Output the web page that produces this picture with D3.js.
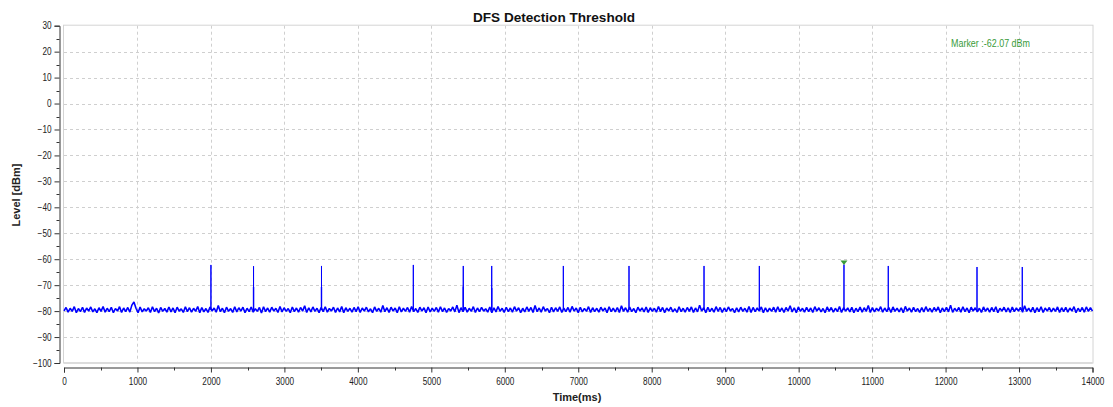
<!DOCTYPE html>
<html><head><meta charset="utf-8">
<script src="https://cdn.jsdelivr.net/npm/d3@7"></script>
<style>
html,body{margin:0;padding:0;background:#fff;}
svg{display:block;}
text{font-family:"Liberation Sans",Arial,sans-serif;}
</style></head>
<body>
<svg id="chart" width="1113" height="407"></svg>
<script>
const title = "DFS Detection Threshold";
const xTitle = "Time(ms)";
const yTitle = "Level [dBm]";
const markerLabel = "Marker :-62.07 dBm";
const markerTime = 10617;
const markerLevel = -62.07;
const xTicks = [0,1000,2000,3000,4000,5000,6000,7000,8000,9000,10000,11000,12000,13000,14000];
const yTicks = [30,20,10,0,-10,-20,-30,-40,-50,-60,-70,-80,-90,-100];
const noiseStepMs = 28;
const noise = [
-79.9,-78.6,-80.4,-78.9,-80.1,-78.3,-80.6,-79.0,-80.2,-78.5,-80.5,-78.8,-80.0,-78.4,-80.3,-79.1,-80.6,-78.7,-80.1,-78.2,
-80.4,-78.9,-80.2,-78.5,-80.6,-79.0,-80.0,-78.3,-80.5,-78.8,-80.2,-78.6,-80.4,-77.7,-76.5,-78.9,-80.6,-78.4,-80.3,-79.1,
-80.0,-78.7,-80.5,-78.3,-80.2,-78.9,-80.7,-78.6,-80.1,-79.0,-80.4,-78.4,-80.3,-78.8,-80.6,-78.5,-80.0,-79.1,-80.5,-78.3,
-80.2,-78.7,-80.4,-78.9,-80.1,-78.2,-80.6,-78.6,-80.3,-79.0,-80.5,-78.4,-80.0,-78.8,-80.4,-77.8,-80.2,-78.9,-80.6,-78.5,
-80.1,-79.0,-80.5,-78.3,-80.3,-78.7,-80.0,-78.5,-80.6,-78.9,-80.2,-78.4,-80.4,-79.1,-80.1,-78.6,-80.7,-78.3,-80.2,-78.8,
-80.4,-78.5,-80.0,-78.9,-80.5,-78.2,-80.3,-78.7,-80.1,-79.0,-80.6,-78.4,-80.2,-78.8,-80.4,-78.6,-80.0,-77.9,-80.5,-78.7,
-80.3,-78.4,-80.1,-78.9,-80.6,-78.6,-80.2,-78.3,-80.4,-79.0,-80.0,-78.5,-80.5,-78.8,-80.3,-78.2,-80.6,-78.7,-80.1,-78.9,
-80.4,-78.6,-80.2,-78.3,-80.5,-78.8,-80.0,-78.5,-80.3,-79.1,-80.6,-78.4,-80.1,-78.9,-80.4,-77.8,-80.2,-78.7,-80.5,-78.5,
-80.0,-78.8,-80.6,-78.3,-80.3,-78.9,-80.1,-78.6,-80.4,-78.2,-80.2,-79.0,-80.5,-78.5,-80.0,-78.7,-80.6,-78.4,-80.3,-78.9,
-80.1,-78.6,-80.4,-78.3,-80.2,-78.8,-80.5,-79.0,-80.0,-78.4,-80.3,-77.7,-80.6,-78.7,-80.2,-78.5,-80.4,-78.9,-80.1,-78.3,
-80.5,-78.8,-80.2,-78.6,-80.0,-79.1,-80.4,-78.4,-80.6,-78.7,-80.3,-78.2,-80.1,-78.9,-80.5,-78.5,-80.2,-78.8,-80.4,-78.3,
-80.0,-78.7,-80.6,-78.9,-80.3,-78.4,-80.1,-78.6,-80.5,-77.8,-80.2,-78.8,-80.4,-78.3,-80.0,-79.0,-80.6,-78.5,-80.3,-78.7,
-80.1,-78.4,-80.5,-78.9,-80.2,-78.6,-80.4,-78.2,-80.0,-78.8,-80.6,-78.5,-80.3,-79.0,-80.1,-78.3,-80.5,-78.7,-80.2,-78.9,
-80.4,-78.5,-80.0,-78.8,-80.6,-78.3,-80.2,-78.9,-80.3,-78.6,-80.5,-77.9,-80.1,-78.7,-80.4,-78.4,-80.2,-79.0,-80.6,-78.5,
-80.0,-78.8,-80.3,-78.4,-80.5,-78.7,-80.1,-78.9,-80.4,-78.2,-80.2,-78.6,-80.6,-78.8,-80.0,-78.5,-80.3,-79.1,-80.5,-78.3,
-80.2,-78.9,-80.4,-78.6,-80.1,-78.4,-80.5,-78.8,-80.3,-77.7,-80.0,-78.7,-80.6,-78.5,-80.2,-78.9,-80.4,-78.3,-80.1,-78.6,
-80.5,-78.8,-80.2,-78.4,-80.0,-79.0,-80.6,-78.7,-80.3,-78.5,-80.1,-78.9,-80.4,-78.2,-80.5,-78.6,-80.2,-78.8,-80.0,-78.4,
-80.6,-78.7,-80.3,-78.9,-80.1,-78.5,-80.4,-78.3,-80.2,-78.8,-80.5,-78.6,-80.0,-77.9,-80.3,-78.7,-80.6,-78.4,-80.1,-78.9,
-80.4,-78.5,-80.2,-78.8,-80.5,-78.3,-80.0,-78.7,-80.3,-79.0,-80.6,-78.4,-80.1,-78.6,-80.4,-78.9,-80.2,-78.2,-80.5,-78.7,
-80.0,-78.8,-80.3,-78.5,-80.6,-78.9,-80.2,-78.4,-80.4,-78.7,-80.1,-77.8,-80.5,-78.6,-80.3,-78.9,-80.0,-78.3,-80.4,-78.8,
-80.2,-78.6,-80.5,-78.4,-80.1,-78.9,-80.3,-78.7,-80.6,-78.2,-80.0,-78.8,-80.4,-78.5,-80.2,-79.0,-80.5,-78.6,-80.3,-78.3,
-80.1,-78.9,-80.4,-78.6,-80.0,-78.4,-80.6,-78.8,-80.2,-78.5,-80.3,-77.7,-80.5,-78.9,-80.1,-78.6,-80.4,-78.3,-80.2,-78.8,
-80.6,-78.5,-80.0,-78.7,-80.3,-78.9,-80.5,-78.4,-80.1,-78.8,-80.4,-78.6,-80.2,-78.3,-80.6,-78.9,-80.0,-78.5,-80.3,-78.7,
-80.5,-78.4,-80.2,-78.8,-80.0,-78.6,-80.4,-77.9,-80.1,-78.9,-80.3,-78.5,-80.6,-78.7,-80.2,-78.3,-80.5,-78.8,-80.0,-78.6,
-80.3,-78.9,-80.1,-78.4,-80.5,-78.7,-80.2,-78.5,-80.4,-78.8,-80.0,-78.3,-80.6,-78.9,-80.2,-78.6,-80.4,-78.4,-80.1,-78.7,
-80.0
];
const spikeTimes = [2000, 2580, 3505, 4755, 5435, 5822, 6797, 7691, 8712, 9465, 10617, 11220, 12428, 13044];
const spikePeaks = [-62.2, -62.7, -62.6, -62.2, -62.6, -62.6, -62.6, -62.6, -62.6, -62.6, -62.07, -62.6, -63.0, -63.0];
const spikeMids  = [null, -70.7, -70.7, null, -70.5, -71.1, null, null, null, null, null, null, null, null];
const spikeBase = -79.6;

const svg = d3.select("#chart");
const L = 64, R = 1092.5, T = 25.7, B = 363;
const x = d3.scaleLinear().domain([0, 14000]).range([L, R]);
const y = d3.scaleLinear().domain([-100, 30]).range([B, T]);

function squeeze(sel, f) {
  sel.each(function () {
    const w = this.getComputedTextLength();
    this.setAttribute("textLength", (w * f).toFixed(2));
    this.setAttribute("lengthAdjust", "spacingAndGlyphs");
  });
}

// grid
const grid = svg.append("g").attr("stroke", "#cfcfcf").attr("stroke-dasharray", "3,3").attr("stroke-width", 1);
grid.selectAll(".gx").data(xTicks.slice(1, -1)).join("line")
  .attr("x1", d => Math.round(x(d)) + 0.5).attr("x2", d => Math.round(x(d)) + 0.5)
  .attr("y1", T).attr("y2", B);
grid.selectAll(".gy").data(yTicks.slice(1, -1)).join("line")
  .attr("y1", d => Math.round(y(d)) + 0.5).attr("y2", d => Math.round(y(d)) + 0.5)
  .attr("x1", L).attr("x2", R);

// frame
svg.append("rect").attr("x", L - 0.5).attr("y", T - 0.5).attr("width", R - L + 1).attr("height", B - T + 0.5)
  .attr("fill", "none").attr("stroke", "#d4d4d4").attr("stroke-width", 1);
svg.append("line").attr("x1", L).attr("x2", R).attr("y1", B).attr("y2", B)
  .attr("stroke", "#dcdcdc").attr("stroke-width", 2);

// noise trace
const noisePts = noise.map((v, i) => ({t: i * noiseStepMs, v}));
const line = d3.line().x(d => x(d.t)).y(d => y(d.v)).defined(d => d !== null);
svg.append("path").datum(noisePts).attr("d", line)
  .attr("fill", "none").attr("stroke", "#0000ff").attr("stroke-width", 1.6).attr("stroke-linejoin", "bevel");

// spikes (same trace, vertical excursions)
const spikePts = [];
spikeTimes.forEach((t, i) => {
  spikePts.push({t, v: spikeBase});
  spikePts.push({t, v: spikePeaks[i]});
  if (spikeMids[i] !== null) spikePts.push({t, v: spikeMids[i]});
  spikePts.push({t, v: spikeBase});
  spikePts.push(null);
});
svg.append("path").datum(spikePts).attr("d", line)
  .attr("fill", "none").attr("stroke", "#0000ff").attr("stroke-width", 1);
// overlapping down-stroke (darker lower part) for double-level spikes
const midPts = [];
spikeTimes.forEach((t, i) => {
  if (spikeMids[i] !== null) { midPts.push({t, v: spikeBase}); midPts.push({t, v: spikeMids[i]}); midPts.push(null); }
});
svg.append("path").datum(midPts).attr("d", line)
  .attr("fill", "none").attr("stroke", "#0000ff").attr("stroke-width", 1.4);

// marker
const mx = x(markerTime), my = y(markerLevel);
svg.append("path")
  .attr("d", `M${mx - 3.5},${my - 4}L${mx + 3.5},${my - 4}L${mx},${my + 0.5}Z`)
  .attr("fill", "#3a9b3a");
const mt = svg.append("text").attr("x", 951).attr("y", 46.5).attr("fill", "#3a9b3a")
  .attr("font-size", 10).text(markerLabel);
mt.attr("textLength", 79).attr("lengthAdjust", "spacingAndGlyphs");

// y axis
const yAxis = d3.axisLeft(y).tickValues(yTicks).tickSize(5).tickPadding(3).tickFormat(d3.format("d"));
const yg = svg.append("g").attr("transform", "translate(59.5,0)").call(yAxis);
yg.select(".domain").attr("stroke", "#333");
yg.selectAll(".tick line").attr("stroke", "#333");
yg.selectAll("text").attr("font-size", 10).attr("fill", "#222")
  .attr("font-family", "'Liberation Sans',Arial,sans-serif").call(squeeze, 0.82);
const yMinor = d3.range(-95, 30, 10);
yg.selectAll(".ym").data(yMinor).join("line")
  .attr("x1", -3).attr("x2", 0).attr("y1", d => Math.round(y(d)) + 0.5).attr("y2", d => Math.round(y(d)) + 0.5)
  .attr("stroke", "#333");

// x axis
const xAxis = d3.axisBottom(x).tickValues(xTicks).tickSize(5).tickPadding(5).tickFormat(d3.format("d"));
const xg = svg.append("g").attr("transform", "translate(0,367.5)").call(xAxis);
xg.select(".domain").attr("stroke", "#333");
xg.selectAll(".tick line").attr("stroke", "#333");
xg.selectAll("text").attr("font-size", 10).attr("fill", "#222")
  .attr("font-family", "'Liberation Sans',Arial,sans-serif").call(squeeze, 0.82);
const xMinor = d3.range(500, 14000, 1000);
xg.selectAll(".xm").data(xMinor).join("line")
  .attr("x1", d => Math.round(x(d)) + 0.5).attr("x2", d => Math.round(x(d)) + 0.5).attr("y1", 0).attr("y2", 3)
  .attr("stroke", "#333");

// titles
svg.append("text").attr("x", 554).attr("y", 22).attr("text-anchor", "middle")
  .attr("font-family", "'Liberation Sans',Arial,sans-serif").attr("font-weight", "bold").attr("font-size", 13.5)
  .attr("fill", "#111").attr("textLength", 162).attr("lengthAdjust", "spacingAndGlyphs").text(title);
svg.append("text").attr("x", 577).attr("y", 401).attr("text-anchor", "middle")
  .attr("font-family", "'Liberation Sans',Arial,sans-serif").attr("font-weight", "bold").attr("font-size", 11)
  .attr("fill", "#222").text(xTitle);
svg.append("text").attr("transform", "translate(20,195) rotate(-90)").attr("text-anchor", "middle")
  .attr("font-family", "'Liberation Sans',Arial,sans-serif").attr("font-weight", "bold").attr("font-size", 11)
  .attr("fill", "#222").text(yTitle);
</script>
</body></html>
